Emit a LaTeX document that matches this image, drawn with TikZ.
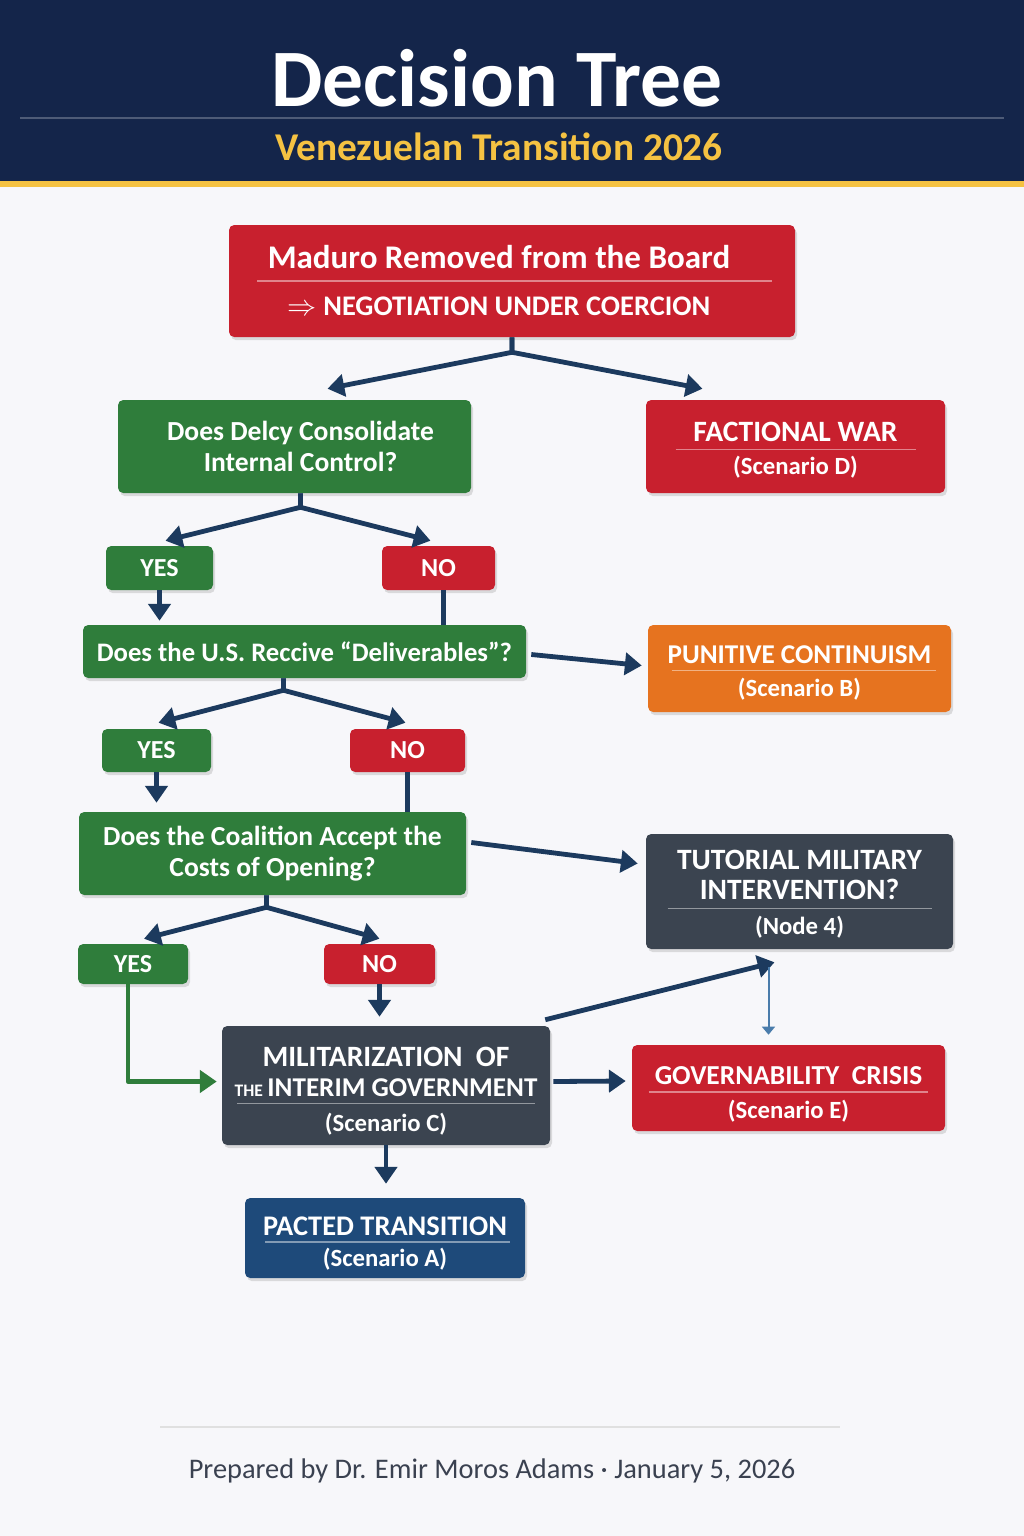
\documentclass[tikz,border=0pt]{standalone}
\usepackage{fontspec}
\setmainfont{Carlito}
\usetikzlibrary{arrows.meta,calc,shadows}

\definecolor{navy}{HTML}{14254A}
\definecolor{gold}{HTML}{F5C242}
\definecolor{paper}{HTML}{F7F7FA}
\definecolor{tred}{HTML}{C8202E}
\definecolor{qgreen}{HTML}{2F7D3B}
\definecolor{torange}{HTML}{E6731F}
\definecolor{slate}{HTML}{3B4450}
\definecolor{tblue}{HTML}{1E4A7A}
\definecolor{arrnavy}{HTML}{1C3A5E}
\definecolor{thinblue}{HTML}{4A7CAB}
\definecolor{foot}{HTML}{3A4150}

\newcommand\scen[1]{{\fontsize{17.6}{20}\selectfont #1}}
\newcommand\lift[1]{\rule{0pt}{#1}}

\begin{document}
\begin{tikzpicture}[x=0.25mm, y=-0.25mm,
	box/.style 2 args={rounded corners=1.3mm, inner sep=0pt, align=center, text=white,
		minimum width=#1*0.25mm, minimum height=#2*0.25mm,
		drop shadow={opacity=.25, shadow xshift=.5mm, shadow yshift=-.8mm}},
	qfont/.style={font=\fontsize{19.6}{22.5}\selectfont\bfseries},
	tfont/.style={font=\fontsize{21}{24}\selectfont\bfseries},
	ynfont/.style={font=\fontsize{18.5}{20}\selectfont\bfseries},
	link/.style={draw=arrnavy, line width=1.2mm, line join=round},
	arr/.style={link, -{Triangle[width=5.5mm,length=4.2mm]}},
	sepline/.style={line width=.3mm, draw=white, opacity=.45}]

	\useasboundingbox (0,0) rectangle (1024,1536);
	\fill[paper] (0,0) rectangle (1024,1536);

	% header
	\fill[navy] (0,0) rectangle (1024,181);
	\fill[gold] (0,181) rectangle (1024,187);
	\draw[white, opacity=.25, line width=.4mm] (20,118) -- (1004,118);
	\node[text=white, font=\fontsize{58}{58}\selectfont\bfseries] (title) at (497,78) {Decision Tree};
	\node[text=gold, font=\fontsize{28}{28}\selectfont\bfseries] (subtitle) at (499,147) {Venezuelan Transition 2026};

	% nodes
	\node[box={566}{112}, fill=tred] (root) at (512,281)
		{{\fontsize{23.5}{26}\selectfont\bfseries Maduro Removed from the Board\kern6.5mm}\\[19pt]
		 {\fontsize{20.2}{22}\selectfont\bfseries $\Rightarrow$ NEGOTIATION UNDER COERCION\kern6.5mm}};
	\node[box={353}{93}, fill=qgreen, qfont] (q1) at (294.5,446.5) {\kern3mm Does Delcy Consolidate\\\kern3mm Internal Control?};
	\node[box={299}{93}, fill=tred, tfont] (war) at (795.5,446.5)
		{\lift{19pt}FACTIONAL WAR\\\scen{(Scenario D)}};

	\node[box={107}{44}, fill=qgreen, ynfont] (yes1) at (159.5,568) {YES};
	\node[box={113}{44}, fill=tred, ynfont] (no1) at (438.5,568) {NO};
	\node[box={443}{53}, fill=qgreen, font=\fontsize{19}{22}\selectfont\bfseries] (q2) at (304.5,651.5) {Does the U.S. Reccive “Deliverables”?};
	\node[box={303}{87}, fill=torange, tfont] (pun) at (799.5,668.5)
		{\lift{19pt}{\fontsize{19.3}{24}\selectfont\bfseries PUNITIVE CONTINUISM}\\\scen{(Scenario B)}};

	\node[box={109}{43}, fill=qgreen, ynfont] (yes2) at (156.5,750.5) {YES};
	\node[box={115}{43}, fill=tred, ynfont] (no2) at (407.5,750.5) {NO};
	\node[box={387}{83}, fill=qgreen, qfont] (q3) at (272.5,853.5) {Does the Coalition Accept the\\Costs of Opening?};
	\node[box={307}{115}, fill=slate, tfont] (tut) at (799.5,891.5)
		{\lift{17.5pt}TUTORIAL MILITARY\\[-3pt]INTERVENTION?\\[1pt]\scen{(Node 4)}};

	\node[box={110}{40}, fill=qgreen, ynfont] (yes3) at (133,964) {YES};
	\node[box={111}{40}, fill=tred, ynfont] (no3) at (379.5,964) {NO};
	\node[box={328}{119}, fill=slate, tfont] (mil) at (386,1085.5)
		{\lift{22pt}MILITARIZATION\ \ OF\\[-3pt]{\fontsize{12.5}{14}\selectfont THE}{\fontsize{19.3}{24}\selectfont\bfseries\,INTERIM GOVERNMENT}\\[1pt]\scen{(Scenario C)}};
	\node[box={313}{86}, fill=tred, tfont] (gov) at (788.5,1088)
		{\lift{22pt}{\fontsize{19.5}{24}\selectfont\bfseries GOVERNABILITY\ \ CRISIS}\\\scen{(Scenario E)}};
	\node[box={280}{80}, fill=tblue, tfont] (pac) at (385,1238)
		{\lift{20.5pt}{\fontsize{20.2}{24}\selectfont\bfseries PACTED TRANSITION}\\[-2pt]\scen{(Scenario A)}};

	% separators
	\draw[sepline] ($(root.center)+(-255,0)$) -- ++(515,0);
	\draw[sepline] ($(war.center)+(-120,3)$) -- ++(240,0);
	\draw[sepline] ($(pun.center)+(-128,2)$) -- ++(264,0);
	\draw[sepline] ($(tut.center)+(-132,17)$) -- ++(264,0);
	\draw[sepline] ($(mil.center)+(-149,18)$) -- ++(298,0);
	\draw[sepline] ($(gov.center)+(-140,4)$) -- ++(279,0);
	\draw[sepline] ($(pac.center)+(-120,4)$) -- ++(245,0);

	% connectors
	\draw[arr] (root.south) -- ++(0,15) -- ($(q1.north)+(33,-11)$);
	\draw[arr] (root.south) -- ++(0,15) -- ($(war.north)+(-93,-11)$);

	\draw[arr] ($(q1.south)+(6,0)$) -- ++(0,14) -- ($(yes1.north)+(6,-5)$);
	\draw[arr] ($(q1.south)+(6,0)$) -- ++(0,14) -- ($(no1.north)+(-8,-5)$);
	\draw[arr] (yes1.south) -- ($(yes1.south |- q2.north)+(0,-4)$);
	\draw[link] ($(no1.south)+(5,0)$) -- ($(no1.south |- q2.north)+(5,0)$);
	\draw[arr] ($(q2.east)+(5,3)$) -- ($(pun.west)+(-6,-3)$);

	\draw[arr] ($(q2.south)+(-21,0)$) -- ++(0,12) -- ($(yes2.north)+(2,-6)$);
	\draw[arr] ($(q2.south)+(-21,0)$) -- ++(0,12) -- ($(no2.north)+(-2,-6)$);
	\draw[arr] (yes2.south) -- ($(yes2.south |- q3.north)+(0,-9)$);
	\draw[link] (no2.south) -- (no2.south |- q3.north);
	\draw[arr] ($(q3.east)+(5,-11)$) -- ($(tut.west)+(-8,-28)$);

	\draw[arr] ($(q3.south)+(-6,0)$) -- ++(0,12) -- ($(yes3.north)+(11,-5)$);
	\draw[arr] ($(q3.south)+(-6,0)$) -- ++(0,12) -- ($(no3.north)+(0,-5)$);
	\draw[link, draw=qgreen, -{Triangle[width=5.5mm,length=4.2mm]}] ($(yes3.south)+(-5,0)$) |- ($(mil.west)+(-5,-4)$);
	\draw[arr] (no3.south) -- ($(no3.south |- mil.north)+(0,-9)$);

	\coordinate (tutbelow) at ($(tut.south)+(-25,13)$);
	\draw[arr] ($(mil.north east)+(-5,-6)$) -- (tutbelow);
	\draw[draw=thinblue, line width=.5mm, -{Triangle[width=3.2mm,length=2mm]}] ($(tutbelow)+(-6,5)$) -- ($(tutbelow |- gov.north)+(-6,-10)$);
	\draw[arr] ($(mil.east)+(3,-4)$) -- ($(gov.west)+(-6,-7)$);
	\draw[arr] (mil.south) -- ($(mil.south |- pac.north)+(0,-14)$);

	% footer
	\draw[black!12, line width=.3mm] (160,1427) -- (840,1427);
	\node[text=foot, font=\fontsize{20.2}{22}\selectfont] (footer) at (492,1471)
		{Prepared by Dr. Emir Moros Adams · January 5, 2026};

\end{tikzpicture}
\end{document}
